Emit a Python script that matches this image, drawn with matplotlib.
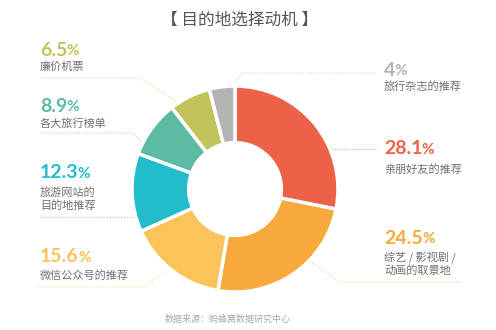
import matplotlib.pyplot as plt

# --- data ---
categories = ["亲朋好友的推荐", "综艺 / 影视剧 /\n动画的取景地", "微信公众号的推荐",
              "旅游网站的\n目的地推荐", "各大旅行榜单", "廉价机票", "旅行杂志的推荐"]
values = [28.1, 24.5, 15.6, 12.3, 8.9, 6.5, 4]
pct_labels = ["28.1", "24.5", "15.6", "12.3", "8.9", "6.5", "4"]
colors = ["#EE6149", "#F7A93B", "#FBC35A", "#22BCCB", "#5BBBA3", "#C2C35A", "#B4B4B4"]

# label layout (image pixel coords, y down): x, pct y, text y, leader polyline
layout = [
    (384, 149, 169, [(332, 149), (377, 149)]),
    (384, 238, 264, [(312, 263), (340, 282), (462, 282)]),
    (40, 257, 276, [(37, 287), (143, 287), (165, 272)]),
    (40, 173, 199, [(40, 217), (134, 217)]),
    (40, 106, 124, [(40, 133), (132, 133), (142, 142)]),
    (40, 50, 67, [(40, 78), (140, 78), (177, 102)]),
    (384, 70, 86, [(235, 82), (242, 73), (377, 73)]),
]

W, H = 496, 330
plt.rcParams['font.family'] = ['Noto Sans CJK SC', 'DejaVu Sans']

fig = plt.figure(figsize=(W / 100, H / 100), dpi=100)
ax = fig.add_axes([0, 0, 1, 1])

cx, cy, R = 235, H - 189, 103
ax.pie(values, colors=colors, startangle=90, counterclock=False,
       center=(cx, cy), radius=R,
       wedgeprops=dict(width=R * 0.55, edgecolor="white", linewidth=2.5))

ax.set_xlim(0, W)
ax.set_ylim(0, H)
ax.set_aspect("equal")
ax.axis("off")

for (x, py, ty, line), pct, cat, col in zip(layout, pct_labels, categories, colors):
    t = ax.text(x, H - py, pct, color=col, fontsize=14, fontweight="bold",
                family=["Lato", "DejaVu Sans"], ha="left", va="center")
    # smaller percent sign right after the number, on the same baseline
    ax.annotate("%", xy=(1, 0.2), xycoords=t, xytext=(-0.5, 0), textcoords="offset points",
                color=col, fontsize=11, fontweight="bold", family=["Lato", "DejaVu Sans"],
                ha="left", va="baseline")
    ax.text(x, H - ty, cat, color="#707070", fontsize=8, ha="left", va="center",
            linespacing=1.15)
    xs = [p[0] for p in line]
    ys = [H - p[1] for p in line]
    ax.plot(xs, ys, color=col, alpha=0.6, lw=0.8, ls=(0, (1, 1.5)))

ax.text(W / 2 - 8, H - 20, "【 目的地选择动机 】", color="#555555", fontsize=12,
        ha="center", va="center")
ax.text(228, H - 319, "数据来源：蚂蜂窝数据研究中心", color="#AAAAAA", fontsize=6.5,
        ha="center", va="center")

fig.savefig("out.png", dpi=100)
